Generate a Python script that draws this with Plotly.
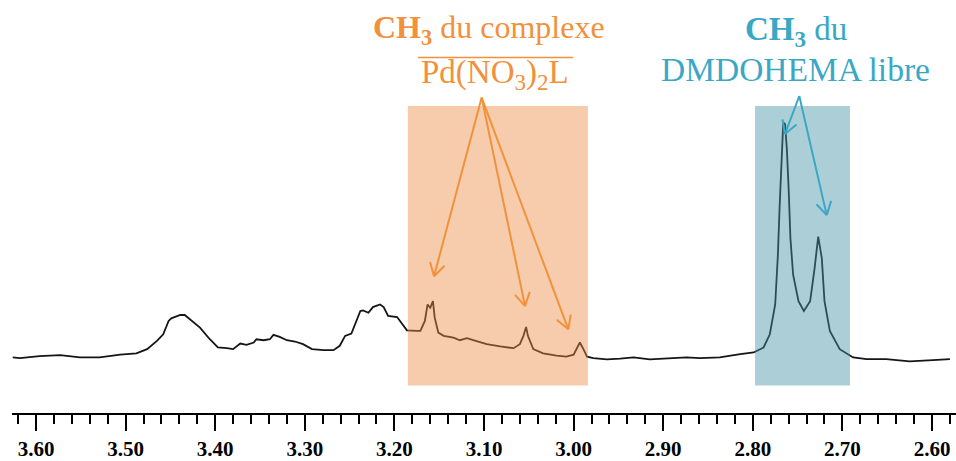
import math
import plotly.graph_objects as go

# ---- Data (chemical shift in ppm, intensity in arbitrary units)
ppm = [3.626, 3.618, 3.596, 3.573, 3.551, 3.529, 3.506, 3.488, 3.476, 3.465,
       3.458, 3.452, 3.449, 3.439, 3.434, 3.426, 3.417, 3.406, 3.397, 3.387,
       3.380, 3.372, 3.365, 3.357, 3.354, 3.346, 3.339, 3.335, 3.328, 3.320,
       3.311, 3.302, 3.292, 3.279, 3.268, 3.261, 3.255, 3.248, 3.244, 3.238,
       3.235, 3.229, 3.224, 3.216, 3.212, 3.207, 3.197, 3.194, 3.186, 3.175,
       3.171, 3.166, 3.163, 3.160, 3.157, 3.155, 3.151, 3.145, 3.134, 3.127,
       3.119, 3.112, 3.097, 3.082, 3.067, 3.060, 3.056, 3.053, 3.051, 3.045,
       3.034, 3.019, 3.008, 3.000, 2.997, 2.993, 2.990, 2.985, 2.978, 2.963,
       2.948, 2.933, 2.915, 2.896, 2.874, 2.859, 2.837, 2.814, 2.799, 2.788,
       2.781, 2.775, 2.772, 2.770, 2.768, 2.766, 2.764, 2.762, 2.760, 2.758,
       2.755, 2.749, 2.743, 2.736, 2.731, 2.727, 2.723, 2.720, 2.714, 2.703,
       2.688, 2.673, 2.651, 2.625, 2.599, 2.580]
intensity = [0.0, -0.7, 1.3, 2.3, 0.0, 0.0, 2.7, 4.0, 8.3, 16.7,
             23.3, 36.7, 39.3, 42.7, 42.7, 36.7, 30.0, 18.3, 10.0, 9.3,
             8.3, 14.0, 12.7, 15.0, 18.3, 17.3, 18.3, 22.7, 20.7, 17.3,
             16.0, 13.3, 8.3, 7.3, 7.3, 11.7, 21.7, 24.0, 33.3, 46.7,
             47.3, 45.0, 50.7, 53.3, 50.7, 41.7, 40.7, 36.7, 27.3, 26.7,
             26.7, 36.7, 53.3, 50.0, 56.7, 40.0, 25.0, 21.7, 20.0, 17.3,
             19.3, 17.3, 13.3, 11.0, 9.3, 13.3, 21.7, 30.7, 21.7, 8.3,
             4.0, 1.7, 0.7, 2.7, 8.3, 15.0, 10.0, 0.7, -0.7, -2.0,
             -1.3, 0.0, -2.0, -1.3, 0.0, -0.7, 0.0, 3.3, 5.0, 10.0,
             23.3, 53.3, 103.3, 153.3, 203.3, 236.7, 235.0, 210.0, 170.0, 120.0,
             83.3, 56.7, 46.7, 56.7, 90.0, 121.7, 100.0, 56.7, 26.7, 8.3,
             0.0, -1.7, -1.7, -4.0, -2.7, -1.7]

tick_values = [3.60, 3.50, 3.40, 3.30, 3.20, 3.10, 3.00, 2.90, 2.80, 2.70, 2.60]
tick_labels = ["3.60", "3.50", "3.40", "3.30", "3.20", "3.10", "3.00", "2.90", "2.80", "2.70", "2.60"]

# highlighted regions (ppm)
complex_region = (3.185, 2.984)
free_region = (2.7975, 2.6915)
# peaks pointed at
complex_arrow_origin = (3.1026, 261.7)
complex_targets = [(3.1558, 81.7), (3.0542, 51.7), (3.0059, 28.3)]
free_arrow_origin = (2.7481, 263.3)
free_targets = [(2.7641, 225.0), (2.7175, 143.3)]

ORANGE = "#F2913C"
BLUE = "#3AA8C5"
SERIF = "Liberation Serif"

X_RANGE = [3.62679, 2.57321]
Y_RANGE = [-56, 360]
PX_PER_PPM = 896.0

fig = go.Figure()
fig.add_trace(go.Scatter(x=ppm, y=intensity, mode="lines",
                         line=dict(color="#151515", width=1.8), hoverinfo="skip"))

shapes = []
for (a, b), col in [(complex_region, "#EB8E47"), (free_region, "#4792A4")]:
    shapes.append(dict(type="rect", xref="x", yref="y", x0=a, x1=b, y0=-28.3, y1=253.3,
                       fillcolor=col, opacity=0.45, line=dict(width=0), layer="above"))


def arrow(origin, tip, color):
    ox, oy = -origin[0] * PX_PER_PPM, -origin[1]
    tx, ty = -tip[0] * PX_PER_PPM, -tip[1]
    dx, dy = ox - tx, oy - ty
    n = math.hypot(dx, dy)
    dx, dy = dx / n, dy / n
    out = [dict(type="line", xref="x", yref="y", x0=origin[0], y0=origin[1],
                x1=tip[0], y1=tip[1], line=dict(color=color, width=2), layer="above")]
    L = 15
    for ang in (math.radians(30), -math.radians(30)):
        wx = dx * math.cos(ang) - dy * math.sin(ang)
        wy = dx * math.sin(ang) + dy * math.cos(ang)
        ex, ey = tx + L * wx, ty + L * wy
        out.append(dict(type="line", xref="x", yref="y", x0=tip[0], y0=tip[1],
                        x1=-ex / PX_PER_PPM, y1=-ey, line=dict(color=color, width=2),
                        layer="above"))
    return out


for t in complex_targets:
    shapes += arrow(complex_arrow_origin, t, ORANGE)
for t in free_targets:
    shapes += arrow(free_arrow_origin, t, BLUE)

# overline of the complex formula
shapes.append(dict(type="line", xref="x", yref="y", x0=3.1737, x1=3.0007, y0=302, y1=302,
                   line=dict(color=ORANGE, width=1.5), layer="above"))

annotations = [
    dict(x=3.0939, y=330, xref="x", yref="y", showarrow=False,
         text="<b>CH<sub>3</sub></b> du complexe", font=dict(family=SERIF, size=32, color=ORANGE)),
    dict(x=3.0872, y=285, xref="x", yref="y", showarrow=False,
         text="Pd(NO<sub>3</sub>)<sub>2</sub>L", font=dict(family=SERIF, size=33, color=ORANGE)),
    dict(x=2.7513, y=328, xref="x", yref="y", showarrow=False,
         text="<b>CH<sub>3</sub></b> du", font=dict(family=SERIF, size=33, color=BLUE)),
    dict(x=2.7529, y=290, xref="x", yref="y", showarrow=False,
         text="DMDOHEMA libre", font=dict(family=SERIF, size=33.5, color=BLUE)),
]

fig.update_layout(
    width=956, height=461,
    margin=dict(l=12, r=0, t=0, b=45),
    paper_bgcolor="white", plot_bgcolor="white",
    showlegend=False,
    shapes=shapes, annotations=annotations,
    xaxis=dict(range=X_RANGE, showgrid=False, zeroline=False,
               showline=True, linecolor="black", linewidth=1.5,
               tickmode="array", tickvals=tick_values, ticktext=tick_labels,
               ticks="outside", ticklen=16, tickwidth=1.5, tickcolor="black",
               tickfont=dict(family=SERIF, size=21, color="black", weight="bold"),
               minor=dict(dtick=0.02, tick0=2.6, ticks="outside", ticklen=9,
                          tickwidth=1.5, tickcolor="black")),
    yaxis=dict(range=Y_RANGE, visible=False, showgrid=False, zeroline=False),
)

fig.write_html("out.html", config={"displayModeBar": False},
               post_script="document.body.style.margin='0';document.body.style.overflow='hidden';")
